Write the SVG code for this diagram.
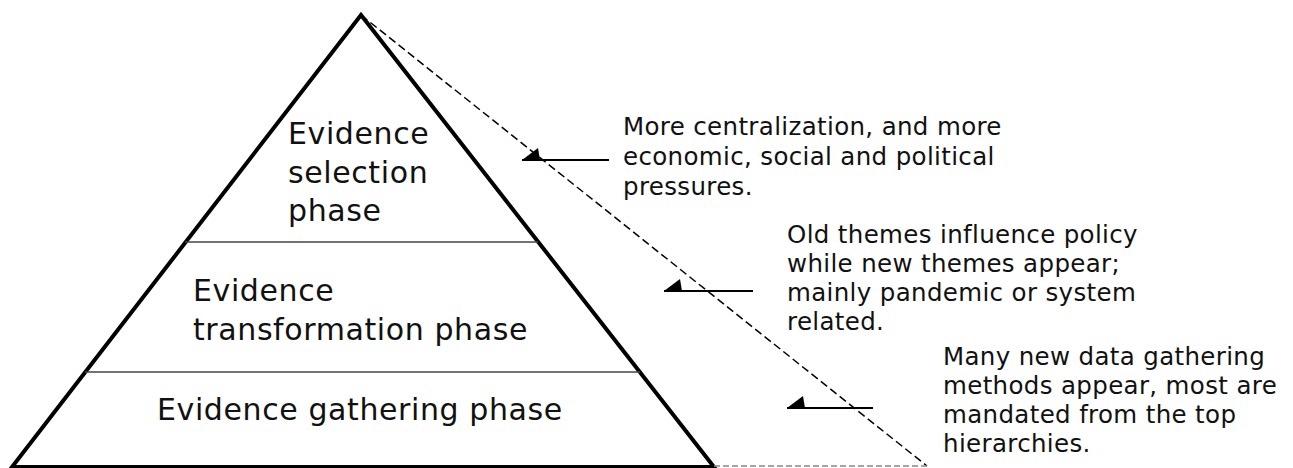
<svg xmlns="http://www.w3.org/2000/svg" width="1293" height="468" viewBox="0 0 1293 468">
  <style>
    .tier { font-family: "DejaVu Sans", Verdana, sans-serif; font-size: 30px; letter-spacing: 0.6px; fill: #111; }
    .note { font-family: "DejaVu Sans", Verdana, sans-serif; font-size: 24.5px; letter-spacing: 0.35px; fill: #111; }
    .outline { fill: none; stroke: #000; stroke-width: 4; stroke-linejoin: miter; }
    .divider { stroke: #444; stroke-width: 1.5; }
    .guide { fill: none; stroke: #000; stroke-width: 1.5; stroke-dasharray: 8 4; }
    .guide-base { fill: none; stroke: #888; stroke-width: 1.5; stroke-dasharray: 6 3; }
    .pointer { fill: none; stroke: #000; stroke-width: 2; marker-end: url(#half-head); }
  </style>
  <defs>
    <marker id="half-head" markerUnits="userSpaceOnUse" viewBox="-20 -2 22 16" markerWidth="22" markerHeight="16" refX="0" refY="0" orient="auto" overflow="visible">
      <path d="M0,0 L-16,12 L-18,0 Z" fill="#000"/>
    </marker>
  </defs>
  <rect width="1293" height="468" fill="#fff"/>

  <!-- pyramid outline and tier dividers -->
  <g id="pyramid">
    <polygon class="outline" points="361,15 714,467 12,467"/>
    <line class="divider" x1="185" y1="242" x2="538" y2="242"/>
    <line class="divider" x1="85" y1="372" x2="640" y2="372"/>
  </g>

  <g id="tier-selection">
    <text class="tier" x="288" y="144">Evidence</text>
    <text class="tier" x="288" y="183">selection</text>
    <text class="tier" x="288" y="221">phase</text>
  </g>
  <g id="tier-transformation">
    <text class="tier" x="193" y="301">Evidence</text>
    <text class="tier" x="193" y="340">transformation phase</text>
  </g>
  <g id="tier-gathering">
    <text class="tier" x="157" y="420">Evidence gathering phase</text>
  </g>

  <!-- connectors -->
  <g id="connectors">
    <line class="guide" x1="361" y1="15" x2="927" y2="466"/>
    <line class="guide-base" x1="714" y1="466" x2="927" y2="466"/>
    <line class="pointer" x1="609" y1="160" x2="522" y2="160"/>
    <line class="pointer" x1="753" y1="291" x2="664" y2="291"/>
    <line class="pointer" x1="873" y1="408" x2="787" y2="408"/>
  </g>

  <g id="note-top">
    <text class="note" x="623" y="135">More centralization, and more</text>
    <text class="note" x="623" y="165">economic, social and political</text>
    <text class="note" x="623" y="195">pressures.</text>
  </g>
  <g id="note-middle">
    <text class="note" x="787" y="243">Old themes influence policy</text>
    <text class="note" x="787" y="272">while new themes appear;</text>
    <text class="note" x="787" y="301">mainly pandemic or system</text>
    <text class="note" x="787" y="330">related.</text>
  </g>
  <g id="note-bottom">
    <text class="note" x="943" y="365">Many new data gathering</text>
    <text class="note" x="943" y="394">methods appear, most are</text>
    <text class="note" x="943" y="423">mandated from the top</text>
    <text class="note" x="943" y="452">hierarchies.</text>
  </g>
</svg>
